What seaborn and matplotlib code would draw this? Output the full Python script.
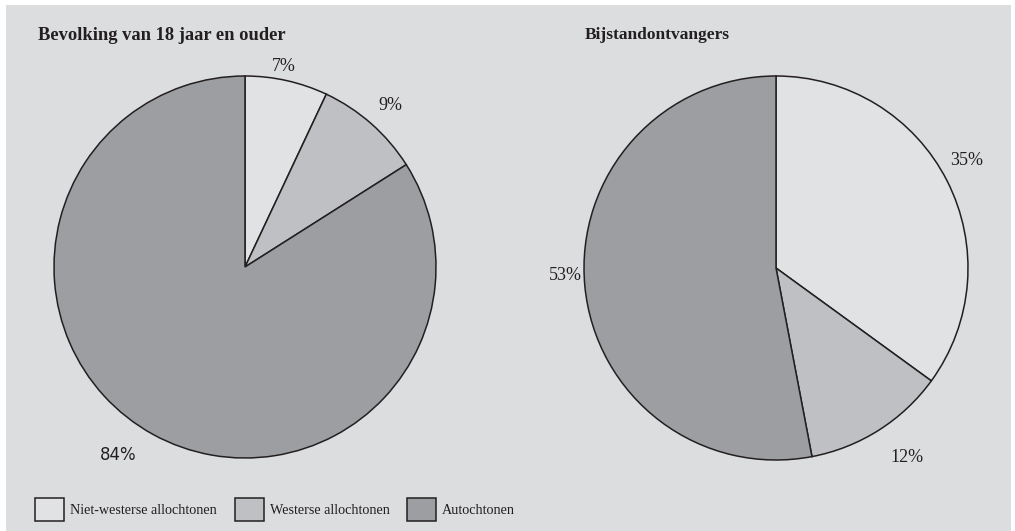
import matplotlib
matplotlib.use("Agg")
import matplotlib.pyplot as plt
import seaborn as sns
import numpy as np

sns.set_theme(style="white")
plt.rcParams['font.family'] = ['Liberation Serif', 'DejaVu Serif']

categories = ["Niet-westerse allochtonen", "Westerse allochtonen", "Autochtonen"]
titles = ["Bevolking van 18 jaar en ouder", "Bijstandontvangers"]
bevolking = [7, 9, 84]
bijstand = [35, 12, 53]
labels_bevolking = ["7%", "9%", "84%"]
labels_bijstand = ["35%", "12%", "53%"]

colors = ["#e1e2e4", "#bfc0c3", "#9d9ea2"]
bg = "#dcdddf"
edge = "#231f20"

W, H = 1015, 531
fig = plt.figure(figsize=(W / 100, H / 100), dpi=100)
fig.patch.set_facecolor(bg)
# white page margins around the grey panel
for (x0, y0, w, h) in [(0, 526, 1015, 5), (0, 0, 6, 531), (1011, 0, 4, 531)]:
    fig.patches.append(plt.Rectangle((x0 / W, y0 / H), w / W, h / H,
                                     transform=fig.transFigure, facecolor="white",
                                     edgecolor="none", zorder=-5))


def pix_axes(cx, cy, r):
    return fig.add_axes([(cx - r) / W, 1 - (cy + r) / H, 2 * r / W, 2 * r / H])


# label positions (relative to radius, angle in degrees)
label_pos = [
    [(1.07, 79), (1.14, 48), (1.19, -124.0)],
    [(1.14, 29.5), (1.20, -55.5), (1.10, 182.0)],
]

sns_colors = sns.color_palette(colors)

for i, (vals, labs, (cx, cy, r)) in enumerate(zip(
        [bevolking, bijstand], [labels_bevolking, labels_bijstand],
        [(245, 267, 191), (776, 268, 192)])):
    ax = pix_axes(cx, cy, r)
    ax.set_facecolor("none")
    ax.pie(vals, colors=sns_colors, startangle=90, counterclock=False,
           wedgeprops=dict(edgecolor=edge, linewidth=1.1), radius=1.0)
    ax.set_xlim(-1, 1)
    ax.set_ylim(-1, 1)
    ax.set_aspect("equal")
    ax.axis("off")
    for lab, (d, a) in zip(labs, label_pos[i]):
        t = np.deg2rad(a)
        fam = ['DejaVu Sans'] if lab == "84%" else ['Liberation Serif']
        fs = 12 if lab == "84%" else 13
        ax.text(d * np.cos(t), d * np.sin(t), lab, ha="center", va="center",
                fontsize=fs, color="#231f20", family=fam, clip_on=False)

fig.text(38 / W, 1 - 35 / H, titles[0], fontsize=13.3, fontweight="bold",
         color="#231f20", va="center", ha="left")
fig.text(585 / W, 1 - 35 / H, titles[1], fontsize=12.5, fontweight="bold",
         color="#231f20", va="center", ha="left")

# legend
box_x = [35, 235, 407]
for x, c, cat in zip(box_x, sns_colors, categories):
    fig.patches.append(plt.Rectangle((x / W, 1 - 521 / H), 29 / W, 23 / H,
                                     transform=fig.transFigure, facecolor=c,
                                     edgecolor=edge, linewidth=1.1, zorder=2))
    fig.text((x + 35) / W, 1 - 511 / H, cat, fontsize=10.2, color="#231f20",
             va="center", ha="left")

fig.savefig("out.png", dpi=100, facecolor=bg)
